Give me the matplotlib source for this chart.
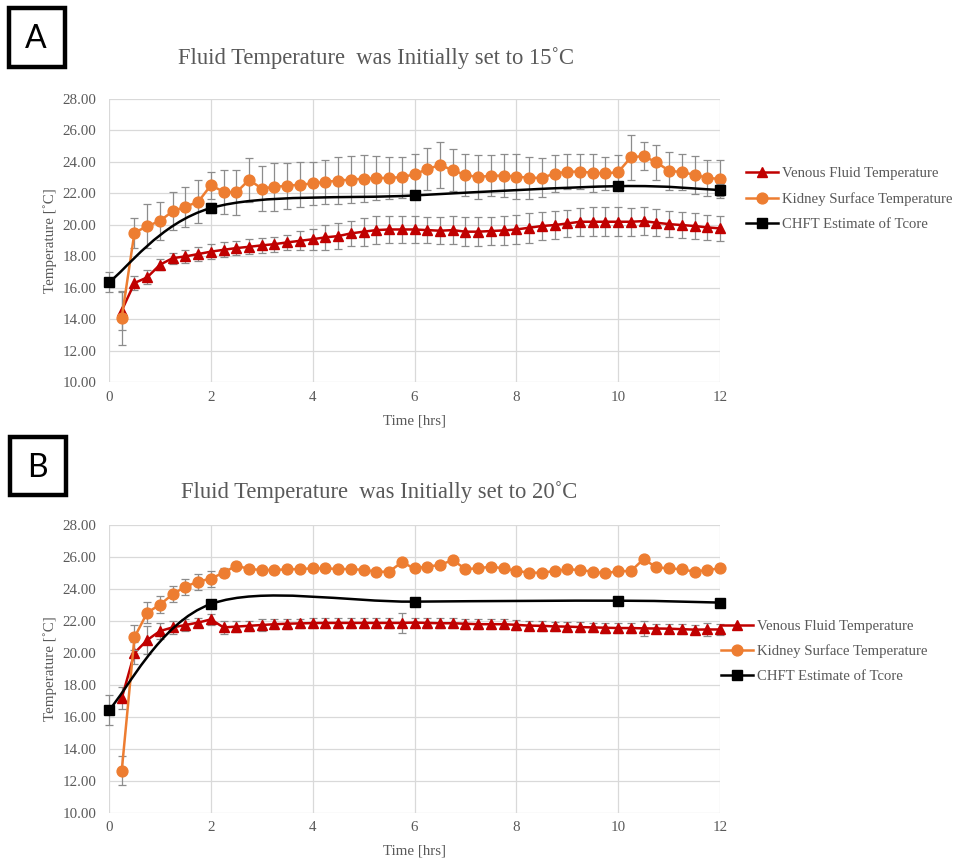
import matplotlib
matplotlib.use("Agg")
import matplotlib.pyplot as plt
from matplotlib.path import Path
from matplotlib.patches import PathPatch, Rectangle
from matplotlib.lines import Line2D

# ---------------- data ----------------
time_hrs = [0.25, 0.5, 0.75, 1.0, 1.25, 1.5, 1.75, 2.0, 2.25, 2.5, 2.75, 3.0,
            3.25, 3.5, 3.75, 4.0, 4.25, 4.5, 4.75, 5.0, 5.25, 5.5, 5.75, 6.0,
            6.25, 6.5, 6.75, 7.0, 7.25, 7.5, 7.75, 8.0, 8.25, 8.5, 8.75, 9.0,
            9.25, 9.5, 9.75, 10.0, 10.25, 10.5, 10.75, 11.0, 11.25, 11.5, 11.75, 12.0]
chft_time = [0, 2, 6, 10, 12]

# Panel A (15 C)
a_venous = [14.55, 16.30, 16.66, 17.46, 17.88, 17.99, 18.14, 18.29, 18.41, 18.52, 18.60, 18.69,
            18.77, 18.88, 18.98, 19.08, 19.20, 19.28, 19.45, 19.56, 19.66, 19.70, 19.70, 19.70,
            19.66, 19.62, 19.66, 19.56, 19.56, 19.60, 19.64, 19.70, 19.81, 19.92, 19.98, 20.08,
            20.19, 20.19, 20.19, 20.19, 20.19, 20.23, 20.13, 20.04, 19.98, 19.92, 19.83, 19.77]
a_venous_err = [1.20, 0.45, 0.45, 0.36, 0.35, 0.40, 0.47, 0.49, 0.48, 0.47, 0.47, 0.47,
                0.47, 0.50, 0.60, 0.68, 0.80, 0.80, 0.80, 0.88, 0.88, 0.88, 0.86, 0.85,
                0.85, 0.85, 0.88, 0.91, 0.90, 0.88, 0.90, 0.92, 0.95, 0.92, 0.90, 0.85,
                0.90, 0.92, 0.92, 0.91, 0.90, 0.88, 0.85, 0.83, 0.82, 0.80, 0.80, 0.78]
a_kidney = [14.10, 19.50, 19.90, 20.25, 20.85, 21.15, 21.45, 22.50, 22.10, 22.05, 22.85, 22.30,
            22.40, 22.48, 22.54, 22.62, 22.72, 22.80, 22.87, 22.92, 22.96, 22.98, 23.02, 23.20,
            23.53, 23.79, 23.47, 23.15, 23.03, 23.11, 23.12, 23.06, 22.98, 22.98, 23.24, 23.37,
            23.37, 23.30, 23.26, 23.34, 24.28, 24.36, 23.96, 23.43, 23.34, 23.17, 22.98, 22.90]
a_kidney_err = [1.72, 0.95, 1.40, 1.20, 1.20, 1.27, 1.36, 0.87, 1.40, 1.42, 1.40, 1.40,
                1.50, 1.45, 1.42, 1.38, 1.38, 1.47, 1.48, 1.48, 1.40, 1.35, 1.30, 1.27,
                1.31, 1.44, 1.31, 1.33, 1.40, 1.31, 1.36, 1.42, 1.33, 1.23, 1.19, 1.12,
                1.12, 1.19, 1.06, 1.08, 1.42, 0.87, 1.10, 1.20, 1.14, 1.19, 1.16, 1.21]
a_chft = [16.35, 21.06, 21.86, 22.45, 22.20]
a_chft_err = [0.63, 0.30, 0.25, 0.20, 0.37]

# Panel B (20 C)
b_venous = [17.17, 20.00, 20.81, 21.37, 21.60, 21.75, 21.90, 22.10, 21.60, 21.65, 21.70, 21.75,
            21.80, 21.83, 21.85, 21.87, 21.88, 21.88, 21.88, 21.88, 21.88, 21.88, 21.88, 21.90,
            21.88, 21.86, 21.86, 21.83, 21.80, 21.80, 21.80, 21.76, 21.71, 21.70, 21.66, 21.65,
            21.62, 21.60, 21.58, 21.56, 21.56, 21.54, 21.53, 21.52, 21.49, 21.46, 21.47, 21.47]
b_venous_err = [0.68, 0.70, 0.85, 0.50, 0.40, 0.35, 0.30, 0.35, 0.40, 0.35, 0.30, 0.35,
                0.30, 0.30, 0.30, 0.30, 0.30, 0.30, 0.30, 0.30, 0.30, 0.30, 0.60, 0.30,
                0.30, 0.30, 0.30, 0.30, 0.30, 0.30, 0.30, 0.30, 0.30, 0.30, 0.30, 0.30,
                0.30, 0.30, 0.30, 0.30, 0.30, 0.45, 0.30, 0.30, 0.30, 0.30, 0.40, 0.35]
b_kidney = [12.64, 20.98, 22.52, 23.02, 23.67, 24.15, 24.46, 24.65, 25.02, 25.46, 25.25, 25.19,
            25.19, 25.23, 25.25, 25.29, 25.29, 25.25, 25.25, 25.19, 25.08, 25.08, 25.67, 25.29,
            25.40, 25.50, 25.81, 25.25, 25.29, 25.40, 25.29, 25.13, 25.02, 25.02, 25.12, 25.23,
            25.19, 25.08, 24.98, 25.12, 25.12, 25.87, 25.35, 25.29, 25.23, 25.08, 25.19, 25.29]
b_kidney_err = [0.90, 0.80, 0.65, 0.55, 0.50, 0.50, 0.50, 0.50, 0.30, 0.20, 0.15, 0.15,
                0.15, 0.15, 0.15, 0.15, 0.15, 0.15, 0.15, 0.15, 0.15, 0.15, 0.15, 0.15,
                0.15, 0.15, 0.15, 0.15, 0.15, 0.15, 0.15, 0.15, 0.15, 0.15, 0.15, 0.15,
                0.15, 0.15, 0.15, 0.15, 0.15, 0.15, 0.15, 0.15, 0.15, 0.15, 0.15, 0.15]
b_chft = [16.44, 23.06, 23.21, 23.27, 23.15]
b_chft_err = [0.94, 0.15, 0.15, 0.15, 0.15]

titles = ["Fluid Temperature  was Initially set to 15\u02daC",
          "Fluid Temperature  was Initially set to 20\u02daC"]
panel_letters = ["A", "B"]
series_labels = ["Venous Fluid Temperature", "Kidney Surface Temperature", "CHFT Estimate of Tcore"]
y_ticks = [10, 12, 14, 16, 18, 20, 22, 24, 26, 28]
x_ticks = [0, 2, 4, 6, 8, 10, 12]

# ---------------- style ----------------
RED = "#C00000"
ORANGE = "#ED7D31"
BLACK = "#000000"
TXT = "#595959"
GRID = "#D9D9D9"
ERR = "#8C8C8C"
SERIF = ["Liberation Serif", "DejaVu Serif"]

W, H = 956, 863
fig = plt.figure(figsize=(W / 100, H / 100), dpi=100)


def fx(px):
    return px / W


def fy(py):
    return 1 - py / H


def smooth_path(xs, ys):
    """Excel-like smoothed line: cubic Bezier with Catmull-Rom style control points."""
    n = len(xs)
    verts = [(xs[0], ys[0])]
    codes = [Path.MOVETO]
    for i in range(n - 1):
        p0 = (xs[max(i - 1, 0)], ys[max(i - 1, 0)])
        p1 = (xs[i], ys[i])
        p2 = (xs[i + 1], ys[i + 1])
        p3 = (xs[min(i + 2, n - 1)], ys[min(i + 2, n - 1)])
        c1 = (p1[0] + (p2[0] - p0[0]) / 6, p1[1] + (p2[1] - p0[1]) / 6)
        c2 = (p2[0] - (p3[0] - p1[0]) / 6, p2[1] - (p3[1] - p1[1]) / 6)
        verts += [c1, c2, p2]
        codes += [Path.CURVE4] * 3
    return Path(verts, codes)


panels = [
    dict(rect=(109, 98.7, 720, 382.3), ven=a_venous, ven_e=a_venous_err, kid=a_kidney,
         kid_e=a_kidney_err, chft=a_chft, chft_e=a_chft_err, title=titles[0],
         title_xy=(376, 58), box=(7, 6, 67, 69), leg=(746, 167), xlab_y=-0.112),
    dict(rect=(109, 525, 720, 813), ven=b_venous, ven_e=b_venous_err, kid=b_kidney,
         kid_e=b_kidney_err, chft=b_chft, chft_e=b_chft_err, title=titles[1],
         title_xy=(379, 492), box=(8, 435, 68, 497), leg=(721, 619.5), xlab_y=-0.108),
]

for k, p in enumerate(panels):
    x0, y0, x1, y1 = p["rect"]
    ax = fig.add_axes([fx(x0), fy(y1), (x1 - x0) / W, (y1 - y0) / H])
    ax.set_xlim(0, 12)
    ax.set_ylim(10, 28)
    ax.set_xticks(x_ticks)
    ax.set_yticks(y_ticks)
    ax.set_yticklabels([f"{v:.2f}" for v in y_ticks])
    ax.grid(True, color=GRID, linewidth=0.9)
    ax.set_axisbelow(True)
    for s in ax.spines.values():
        s.set_visible(False)
    ax.tick_params(length=0, colors=TXT, labelsize=10.8)
    ax.tick_params(axis="y", pad=9)
    ax.tick_params(axis="x", pad=6)
    for lab in ax.get_xticklabels() + ax.get_yticklabels():
        lab.set_fontfamily(SERIF)
    ax.set_ylabel("Temperature [\u02daC]", family=SERIF, color=TXT, fontsize=10.8)
    ax.yaxis.set_label_coords(-0.0855, 0.5)
    ax.set_xlabel("Time [hrs]", family=SERIF, color=TXT, fontsize=10.8)
    ax.xaxis.set_label_coords(0.5, p["xlab_y"])

    # venous
    ax.errorbar(time_hrs, p["ven"], yerr=p["ven_e"], color=RED, lw=1.8, marker="^",
                ms=7.5, ecolor=ERR, elinewidth=0.9, capsize=3, capthick=0.9,
                zorder=3, clip_on=False)
    # kidney
    ax.errorbar(time_hrs, p["kid"], yerr=p["kid_e"], color=ORANGE, lw=1.8, marker="o",
                ms=7.8, ecolor=ERR, elinewidth=0.9, capsize=3, capthick=0.9,
                zorder=4, clip_on=False)
    # CHFT: smoothed line + markers
    ax.add_patch(PathPatch(smooth_path(chft_time, p["chft"]), facecolor="none",
                           edgecolor=BLACK, lw=1.8, zorder=5, clip_on=False))
    ax.errorbar(chft_time, p["chft"], yerr=p["chft_e"], color=BLACK, ls="none", marker="s",
                ms=6.5, ecolor=ERR, elinewidth=0.9, capsize=3, capthick=0.9,
                zorder=6, clip_on=False)

    # title
    fig.text(fx(p["title_xy"][0]), fy(p["title_xy"][1]), p["title"], family=SERIF,
             color=TXT, fontsize=16.3, ha="center", va="center")

    # panel letter box
    bx0, by0, bx1, by1 = p["box"]
    fig.patches.append(Rectangle((fx(bx0 + 2), fy(by1 - 2)), (bx1 - bx0 - 4) / W,
                                 (by1 - by0 - 4) / H, transform=fig.transFigure,
                                 fill=False, edgecolor="black", lw=3.2))
    fig.text(fx((bx0 + bx1) / 2 - 1), fy((by0 + by1) / 2 + 2), panel_letters[k],
             family=["Lato", "DejaVu Sans"], fontsize=23, ha="center", va="center",
             color="black")

    # legend
    handles = [
        Line2D([], [], color=RED, lw=1.8, marker="^", ms=7.5),
        Line2D([], [], color=ORANGE, lw=1.8, marker="o", ms=7.8),
        Line2D([], [], color=BLACK, lw=1.8, marker="s", ms=6.5),
    ]
    leg = fig.legend(handles, series_labels, loc="upper left",
                     bbox_to_anchor=(fx(p["leg"][0]), fy(p["leg"][1])),
                     bbox_transform=fig.transFigure, frameon=False, borderpad=0,
                     borderaxespad=0, handlelength=2.2, handletextpad=0.25,
                     labelspacing=0.8, prop={"family": SERIF, "size": 10.6})
    for t in leg.get_texts():
        t.set_color(TXT)

fig.savefig("out.png", dpi=100)
